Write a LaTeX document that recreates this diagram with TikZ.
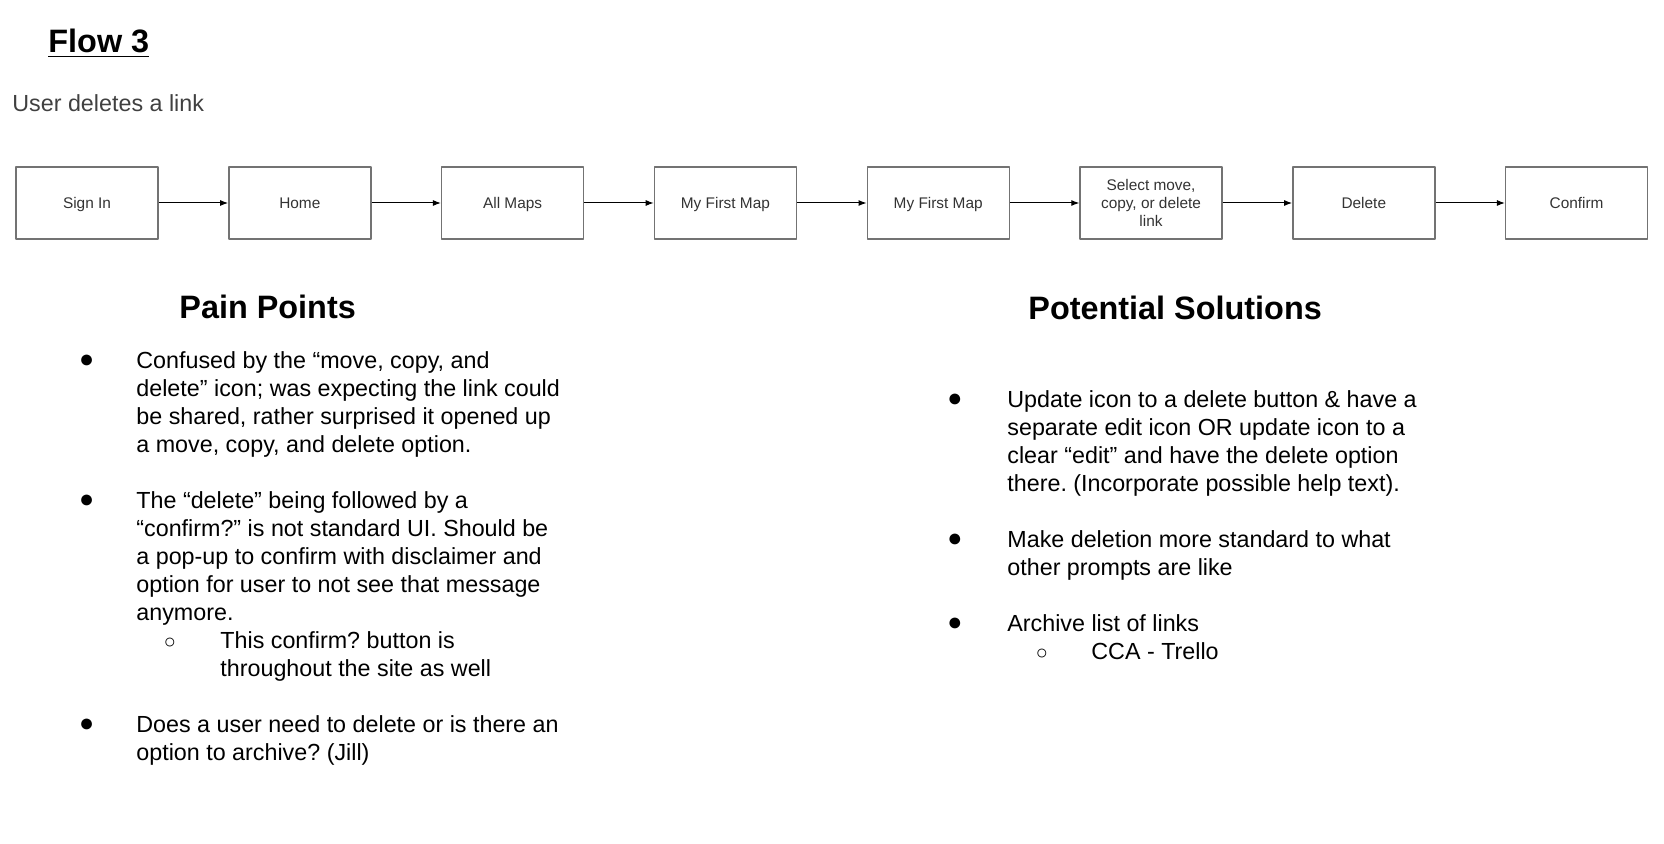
\documentclass[tikz,border=0pt]{standalone}
\usepackage{fontspec}
\setmainfont{Liberation Sans}
\usetikzlibrary{arrows.meta}
\frenchspacing
\newcommand{\boxstrut}{\rule[-1.5pt]{0pt}{8.5pt}}

\begin{document}
\begin{tikzpicture}[x=0.5pt, y=-0.5pt, line join=round, >={Latex[length=4pt,width=3pt]}]

	\tikzset{stepbox/.style={draw=black!55, line width=0.7pt, minimum width=71pt, minimum height=36pt, inner sep=1pt, align=center, text=black!80, font=\fontsize{7.7}{9}\selectfont},
		heading/.style={anchor=base west, inner sep=0pt, font=\bfseries\fontsize{16.2}{19}\selectfont},
		ptext/.style={anchor=base west, inner sep=0pt, align=left, font=\fontsize{11.65}{14}\selectfont},
		pbullet/.style={inner sep=0pt, font=\fontsize{12.5}{12.5}\selectfont},
		psub/.style={inner sep=0pt, font=\fontsize{10}{10}\selectfont}}

	\useasboundingbox (0,0) rectangle (1664,844);
	\node[heading] (flow) at (48,53) {\underline{Flow 3}};
	\node[ptext, text=black!75] (task) at (12,112) {User deletes a link};

	% the flow
	\foreach \i/\n/\t in {0/signin/{Sign In}, 1/home/Home, 2/allmaps/{All Maps}, 3/mapa/{My First Map}, 4/mapb/{My First Map}, 5/select/{Select move,\\ copy, or delete\\ link}, 6/delete/Delete, 7/confirm/Confirm}
		\node[stepbox] (\n) at (87+212.8*\i,203) {\boxstrut\t\boxstrut};
	\foreach \a/\b in {signin/home, home/allmaps, allmaps/mapa, mapa/mapb, mapb/select, select/delete, delete/confirm}
		\draw[->, line width=0.5pt] (\a) -- (\b);

	% pain points (text nodes sit on the baseline of their last line)
	\node[heading] (pain) at (179,319) {Pain Points};
	\node[pbullet] (pa) at (86.7,361) {●};
	\node[ptext] (pta) at (136,452) {Confused by the “move, copy, and\\ delete” icon; was expecting the link could\\ be shared, rather surprised it opened up\\ a move, copy, and delete option.};
	\node[pbullet] (pb) at (86.7,501) {●};
	\node[ptext] (ptb) at (136,620) {The “delete” being followed by a\\ “confirm?” is not standard UI. Should be\\ a pop-up to confirm with disclaimer and\\ option for user to not see that message\\ anymore.};
	\node[psub] (pbs) at (170,643) {○};
	\node[ptext] (ptbs) at (220,676) {This confirm? button is\\ throughout the site as well};
	\node[pbullet] (pc) at (86.7,725) {●};
	\node[ptext] (ptc) at (136,760) {Does a user need to delete or is there an\\ option to archive? (Jill)};

	% potential solutions
	\node[heading] (sol) at (1028,320) {Potential Solutions};
	\node[pbullet] (sa) at (955,400) {●};
	\node[ptext] (sta) at (1007,491) {Update icon to a delete button \& have a\\ separate edit icon OR update icon to a\\ clear “edit” and have the delete option\\ there. (Incorporate possible help text).};
	\node[pbullet] (sb) at (955,540) {●};
	\node[ptext] (stb) at (1007,575) {Make deletion more standard to what\\ other prompts are like};
	\node[pbullet] (sc) at (955,624) {●};
	\node[ptext] (stc) at (1007,631) {Archive list of links};
	\node[psub] (scs) at (1042,654) {○};
	\node[ptext] (stcs) at (1091,659) {CCA - Trello};
\end{tikzpicture}
\end{document}
